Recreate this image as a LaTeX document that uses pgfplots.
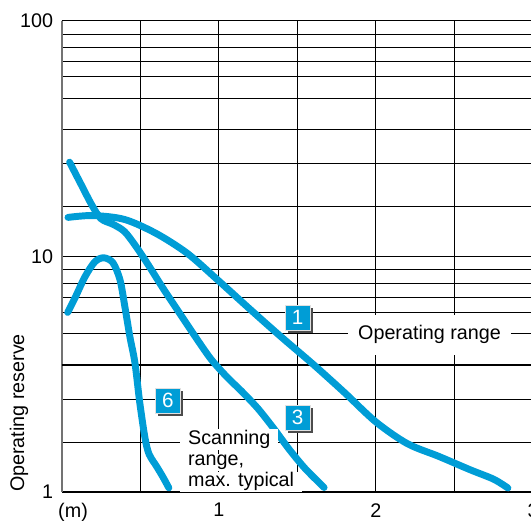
\documentclass[border=0pt]{standalone}
\usepackage{pgfplots}
\pgfplotsset{compat=1.18}
\usepackage{fontspec}
\setmainfont{Liberation Sans}
\usetikzlibrary{shadows}
\definecolor{sickblue}{RGB}{0,157,214}
\begin{document}
\begin{tikzpicture}[font=\fontsize{14.8}{16}\selectfont,
  labelbox/.style={fill=sickblue, text=white, minimum width=18.5pt, minimum height=18.5pt, inner sep=0pt,
    draw=black!12, line width=0.5pt, font=\fontsize{15.5}{16}\selectfont,
    drop shadow={shadow xshift=2.1pt, shadow yshift=-2.1pt, fill=black!70, opacity=1}},
  curve/.style={sickblue, line width=5.2pt, smooth, tension=0.5, line cap=round, line join=round}]
\begin{axis}[
  name=ax,
  scale only axis, width=353.5pt, height=353.7pt,
  xmin=0, xmax=3, ymin=1, ymax=100, ymode=log,
  clip=false,
  axis x line*=bottom, axis y line*=left,
  x axis line style={-, line width=1.8pt, black},
  y axis line style={-, line width=1.4pt, black!55},
  xtick={0.072,1,2,3}, xticklabels={(m),1,2,3},
  ytick={1,10,100}, yticklabels={1,10,100},
  major tick length=0pt, minor tick length=0pt,
  minor xtick={0.5,1,1.5,2,2.5,3},
  minor ytick={1.63,2.47,4.70,5.78,6.70,7.71,8.78,10,16.3,24.7,34.7,47.0,57.8,67.0,77.1,87.8,100},
  xmajorgrids=false, ymajorgrids=false, xminorgrids=true, yminorgrids=true,
  minor grid style={black, line width=0.7pt},
  extra y ticks={3.47}, extra y tick labels={},
  extra y tick style={grid=major, major grid style={black, line width=1.6pt}},
  /pgf/number format/assume math mode=true,
  xticklabel style={yshift=-4.8pt},
  yticklabel style={xshift=-3pt},
]
% curve 1
\addplot[curve] coordinates {
(0.04,14.64) (0.2,14.91) (0.4,14.35) (0.6,12.53) (0.8,10.30) (1.0,7.87) (1.2,5.96)
(1.4,4.54) (1.6,3.49) (1.8,2.646) (2.0,1.986) (2.2,1.607) (2.4,1.419) (2.6,1.245)
(2.75,1.135) (2.84,1.042)};
% curve 3
\addplot[curve] coordinates {
(0.05,25.1) (0.12,20.4) (0.19,16.6) (0.25,14.45) (0.33,13.65) (0.40,12.74) (0.47,11.09)
(0.55,9.23) (0.65,7.24) (0.75,5.75) (0.85,4.57) (0.95,3.67) (1.05,3.09) (1.15,2.66)
(1.25,2.26) (1.35,1.862) (1.45,1.514) (1.55,1.259) (1.67,1.047)};
% curve 6
\addplot[curve] coordinates {
(0.038,5.79) (0.085,6.68) (0.148,8.20) (0.211,9.49) (0.268,9.87) (0.326,9.40)
(0.371,7.96) (0.402,6.12) (0.434,4.56) (0.466,3.54) (0.497,2.39) (0.53,1.70)
(0.556,1.45) (0.606,1.28) (0.644,1.161) (0.682,1.043)};
\node[fill=white, inner xsep=8pt, inner ysep=8pt] at (axis cs:2.341,4.65) {Operating range};
\node[fill=white, anchor=base west, inner xsep=6pt, inner ysep=1pt] at (axis cs:0.752,1.588) {Scanning};
\node[fill=white, anchor=base west, inner xsep=6pt, inner ysep=1pt] at (axis cs:0.752,1.293) {range,};
\node[fill=white, anchor=base west, inner xsep=6pt, inner ysep=0.5pt] at (axis cs:0.752,1.053) {max. typical};
\node[labelbox] at (axis cs:1.502,5.49) {1};
\node[labelbox] at (axis cs:1.502,2.067) {3};
\node[labelbox] at (axis cs:0.676,2.44) {6};
\end{axis}
\node[rotate=90, anchor=west, inner sep=0pt] at ([xshift=-32pt]ax.south west) {Operating reserve};
\pgfresetboundingbox
\path ([shift={(-46.3pt,-21.5pt)}]ax.south west) rectangle ([shift={(-1.5pt,15.5pt)}]ax.north east);
\end{tikzpicture}
\end{document}
